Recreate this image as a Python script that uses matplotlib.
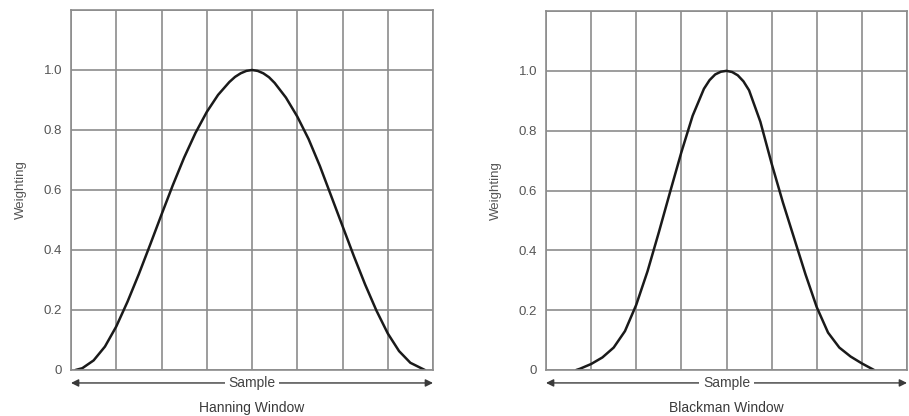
import matplotlib.pyplot as plt

# valeurs (x en cases de grille, y = pondération)
hanning_x = [0.1, 0.25, 0.5, 0.75, 1.0, 1.25, 1.5, 1.75, 2.0, 2.25, 2.5, 2.75, 3.0, 3.25, 3.5, 3.625, 3.75, 3.875,
             4.0, 4.125, 4.25, 4.375, 4.5, 4.75, 5.0, 5.25, 5.5, 5.75, 6.0, 6.25, 6.5, 6.75, 7.0, 7.25, 7.5, 7.82]
hanning_y = [0.0, 0.006, 0.032, 0.078, 0.145, 0.228, 0.32, 0.418, 0.518, 0.616, 0.708, 0.79, 0.86, 0.917, 0.96, 0.977, 0.989, 0.997,
             1.0, 0.997, 0.989, 0.976, 0.957, 0.908, 0.845, 0.77, 0.68, 0.58, 0.48, 0.38, 0.285, 0.198, 0.122, 0.063, 0.024, 0.0]

blackman_x = [0.67, 0.75, 1.0, 1.25, 1.5, 1.75, 2.0, 2.25, 2.5, 2.75, 3.0, 3.25, 3.5, 3.625, 3.75, 3.875,
              4.0, 4.125, 4.25, 4.375, 4.5, 4.75, 5.0, 5.25, 5.5, 5.75, 6.0, 6.25, 6.5, 6.75, 7.0, 7.27]
blackman_y = [0.0, 0.004, 0.02, 0.042, 0.075, 0.13, 0.218, 0.33, 0.46, 0.595, 0.728, 0.85, 0.94, 0.969, 0.988, 0.997,
              1.0, 0.996, 0.985, 0.965, 0.935, 0.83, 0.69, 0.56, 0.44, 0.32, 0.21, 0.125, 0.075, 0.045, 0.022, 0.0]

y_ticks = [0, 0.2, 0.4, 0.6, 0.8, 1.0, 1.2]
y_labels = ["0", "0.2", "0.4", "0.6", "0.8", "1.0", ""]
titles = ["Hanning Window", "Blackman Window"]

plt.rcParams['font.family'] = ['Liberation Sans', 'DejaVu Sans']

grid_col = '#8c8c8c'
text_col = '#555555'

fig = plt.figure(figsize=(9.09, 4.16), dpi=100)
ax1 = fig.add_axes([71 / 909, 46 / 416, 362 / 909, 360 / 416])
ax2 = fig.add_axes([546 / 909, 46 / 416, 361 / 909, 359 / 416])

for ax, xs, ys, title in [(ax1, hanning_x, hanning_y, titles[0]), (ax2, blackman_x, blackman_y, titles[1])]:
    ax.set_xlim(0, 8)
    ax.set_ylim(0, 1.2)
    ax.set_xticks(range(9))
    ax.set_yticks(y_ticks)
    ax.set_yticklabels(y_labels)
    ax.tick_params(axis='x', labelbottom=False, length=0)
    ax.tick_params(axis='y', length=0, pad=6.5, labelsize=9.5, labelcolor=text_col)
    ax.grid(True, color=grid_col, lw=1.2)
    ax.set_axisbelow(True)
    for s in ax.spines.values():
        s.set_color(grid_col)
        s.set_linewidth(1.2)

    ax.plot(xs, ys, color='#1a1a1a', lw=1.8, solid_capstyle='round', solid_joinstyle='round')

    ax.set_ylabel("Weighting", fontsize=9.5, color=text_col)
    ax.yaxis.set_label_coords(-0.123, 0.5)

    # flèche "Sample" sous l'axe
    ax.annotate("", xy=(0, -0.036), xytext=(1, -0.036), xycoords='axes fraction',
                arrowprops=dict(arrowstyle='<|-|>', color='#3a3a3a', lw=1.0, mutation_scale=11,
                                shrinkA=0, shrinkB=0), annotation_clip=False)
    ax.text(0.5, -0.036, "Sample", transform=ax.transAxes, ha='center', va='center',
            fontsize=10, color='#444444',
            bbox=dict(facecolor='white', edgecolor='none', pad=2.5))
    ax.text(0.5, -0.106, title, transform=ax.transAxes, ha='center', va='center',
            fontsize=10, color='#3a3a3a')

fig.savefig("out.png", dpi=100, facecolor='white')
